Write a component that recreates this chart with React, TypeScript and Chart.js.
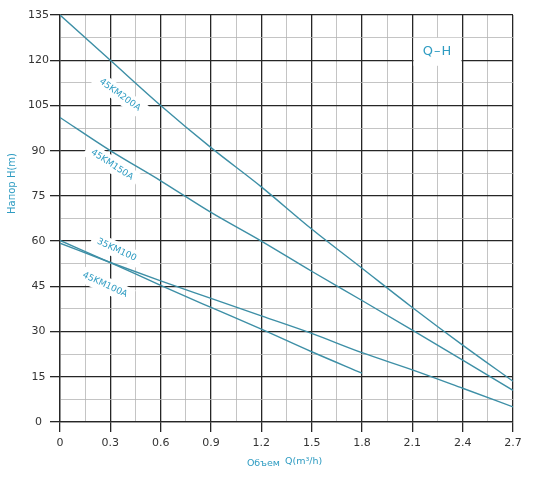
import React, { useEffect, useRef } from 'react';
import { Chart, registerables } from 'chart.js';

Chart.register(...registerables);

// ---- data ----
const flowQ = [0, 0.3, 0.6, 0.9, 1.2, 1.5, 1.8, 2.1, 2.4, 2.7];
const head45KM200A = [135, 120, 105, 91, 78, 64, 51, 38, 25.5, 13.5];
const head45KM150A = [101, 90, 80, 69.5, 60, 50, 40.3, 30.5, 20.5, 10.5];
const head35KM100 = [59.3, 52.9, 46.8, 41, 35.2, 29.4, 23, 17.3, 11.2, 5];
const head45KM100A = [60.2, 52.9, 45.3, 38, 30.8, 23.3, 16.2];
const seriesNames = ['45KM200A', '45KM150A', '35KM100', '45KM100A'];

const xTickLabels = ['0', '0.3', '0.6', '0.9', '1.2', '1.5', '1.8', '2.1', '2.4', '2.7'];
const yTickLabels = ['0', '15', '30', '45', '60', '75', '90', '105', '120', '135'];

const chartTitle = 'Q–H';
const yTitle = 'Напор H(m)';
const xTitleWord = 'Объем';
const xTitleUnit = 'Q(m³/h)';

// label anchors in data units (Q, H) with text angle in degrees
const curveLabelAnchors = [
  { q: 0.357, h: 108.5, angle: 36 },
  { q: 0.31, h: 85.3, angle: 33 },
  { q: 0.338, h: 57.1, angle: 25 },
  { q: 0.268, h: 45.5, angle: 25 },
];
const chartTitleAnchor = { q: 2.25, h: 122.8 };

const TEAL = '#3d8fa6';
const TEXT_TEAL = '#2f9cc2';
const MAJOR = '#262626';
const MINOR = '#b5b5b5';

const withMinor = (labels: string[]) => {
  const vals: number[] = [];
  labels.forEach((l, i) => {
    const v = parseFloat(l);
    vals.push(v);
    if (i < labels.length - 1) vals.push((v + parseFloat(labels[i + 1])) / 2);
  });
  return vals;
};
const xGridValues = withMinor(xTickLabels);
const yGridValues = withMinor(yTickLabels);

const toPoints = (vals: number[]) => vals.map((h, i) => ({ x: flowQ[i], y: h }));

const annotatePlugin = {
  id: 'annotate',
  beforeDatasetsDraw(chart: any) {
    const { ctx, scales } = chart;
    const x = scales.x;
    const y = scales.y;
    ctx.save();
    ctx.font = '9px "DejaVu Sans", sans-serif';
    ctx.textAlign = 'center';
    ctx.textBaseline = 'middle';
    curveLabelAnchors.forEach((a, i) => {
      const px = x.getPixelForValue(a.q);
      const py = y.getPixelForValue(a.h);
      const text = seriesNames[i];
      const w = ctx.measureText(text).width;
      ctx.save();
      ctx.translate(px, py);
      ctx.rotate((a.angle * Math.PI) / 180);
      ctx.fillStyle = '#ffffff';
      ctx.fillRect(-w / 2 - 6, -8, w + 12, 16);
      ctx.fillStyle = TEXT_TEAL;
      ctx.fillText(text, 0, 0);
      ctx.restore();
    });
    // Q-H label
    const tx = x.getPixelForValue(chartTitleAnchor.q);
    const ty = y.getPixelForValue(chartTitleAnchor.h);
    ctx.fillStyle = '#ffffff';
    ctx.fillRect(tx - 24, ty - 14, 48, 28);
    ctx.font = '13px "DejaVu Sans", sans-serif';
    (ctx as any).letterSpacing = '1px';
    ctx.fillStyle = TEXT_TEAL;
    ctx.fillText(chartTitle, tx, ty);
    ctx.restore();
  },
  afterDraw(chart: any) {
    const { ctx, chartArea } = chart;
    ctx.save();
    ctx.fillStyle = TEXT_TEAL;
    ctx.textBaseline = 'middle';
    // y title
    ctx.save();
    ctx.translate(12, (chartArea.top + chartArea.bottom) / 2 - 35);
    ctx.rotate(-Math.PI / 2);
    ctx.textAlign = 'center';
    ctx.font = '10px "DejaVu Sans", sans-serif';
    ctx.fillText(yTitle, 0, 0);
    ctx.restore();
    // x title
    ctx.font = '9.5px "DejaVu Sans", sans-serif';
    const w1 = ctx.measureText(xTitleWord).width;
    const w2 = ctx.measureText(xTitleUnit).width;
    const gap = 5;
    const cx = (chartArea.left + chartArea.right) / 2;
    const startX = cx - (w1 + gap + w2) / 2 - 2;
    const ty = chartArea.bottom + 41;
    ctx.textAlign = 'left';
    ctx.fillText(xTitleWord, startX, ty + 1);
    ctx.fillText(xTitleUnit, startX + w1 + gap, ty - 1);
    ctx.restore();
  },
};

const gridColor = (c: any) => (c.index % 2 === 0 ? MAJOR : MINOR);
const gridWidth = (c: any) => (c.index % 2 === 0 ? 1.3 : 0.8);
const tickColor = (c: any) => (c.index % 2 === 0 ? MAJOR : 'rgba(0,0,0,0)');

export default function App() {
  const ref = useRef<HTMLCanvasElement | null>(null);
  useEffect(() => {
    if (!ref.current) return;
    const lineStyle = {
      borderColor: TEAL,
      borderWidth: 1.4,
      pointRadius: 0,
      fill: false,
      cubicInterpolationMode: 'monotone' as const,
    };
    const chart = new Chart(ref.current, {
      type: 'line',
      data: {
        datasets: [
          { label: seriesNames[0], data: toPoints(head45KM200A), ...lineStyle },
          { label: seriesNames[1], data: toPoints(head45KM150A), ...lineStyle },
          { label: seriesNames[2], data: toPoints(head35KM100), ...lineStyle },
          { label: seriesNames[3], data: toPoints(head45KM100A), ...lineStyle },
        ],
      },
      options: {
        animation: false,
        responsive: false,
        devicePixelRatio: 1,
        layout: { padding: { top: 15, right: 43, left: 0, bottom: 0 } },
        plugins: { legend: { display: false }, tooltip: { enabled: false } },
        scales: {
          x: {
            type: 'linear',
            min: 0,
            max: 2.7,
            afterBuildTicks: (s: any) => {
              s.ticks = xGridValues.map((v) => ({ value: v }));
            },
            afterFit: (s: any) => {
              s.height = 61;
            },
            ticks: {
              autoSkip: false,
              maxRotation: 0,
              padding: 5,
              color: '#333',
              font: { family: '"DejaVu Sans", sans-serif', size: 11 },
              callback: (_v: any, i: number) => (i % 2 === 0 ? xTickLabels[i / 2] : ''),
            },
            grid: { color: gridColor, lineWidth: gridWidth, tickColor, tickLength: 10, tickWidth: 1.3 },
            border: { display: true, color: MAJOR, width: 1.3 },
          },
          y: {
            type: 'linear',
            min: 0,
            max: 135,
            afterBuildTicks: (s: any) => {
              s.ticks = yGridValues.map((v) => ({ value: v }));
            },
            afterFit: (s: any) => {
              s.width = 60;
            },
            ticks: {
              autoSkip: false,
              padding: 1,
              crossAlign: 'center',
              color: '#333',
              font: { family: '"DejaVu Sans", sans-serif', size: 11 },
              callback: (_v: any, i: number) => (i % 2 === 0 ? yTickLabels[i / 2] : ''),
            },
            grid: { color: gridColor, lineWidth: gridWidth, tickColor, tickLength: 10, tickWidth: 1.3 },
            border: { display: true, color: MAJOR, width: 1.3 },
          },
        },
      },
      plugins: [annotatePlugin],
    });
    return () => chart.destroy();
  }, []);
  return (
    <div style={{ position: 'absolute', left: 0, top: 0, width: 556, height: 483, background: '#fff' }}>
      <canvas ref={ref} width={556} height={483} />
    </div>
  );
}
